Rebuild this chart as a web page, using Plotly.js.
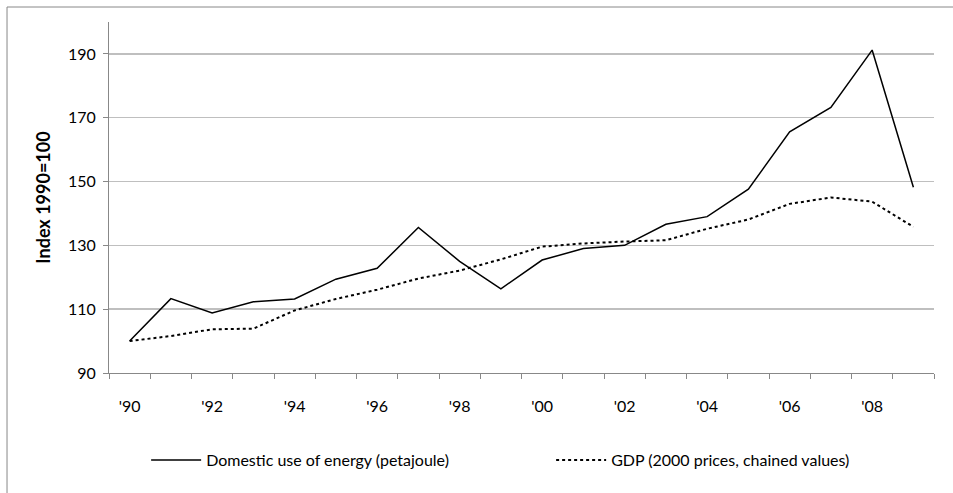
<!DOCTYPE html>
<html><head><meta charset="utf-8">
<script src="https://cdn.plot.ly/plotly-3.0.1.min.js"></script>
<style>html,body{margin:0;padding:0;background:#fff}#chart{width:953px;height:493px}</style>
</head><body><div id="chart"></div>
<script>
const years = [1990,1991,1992,1993,1994,1995,1996,1997,1998,1999,2000,2001,2002,2003,2004,2005,2006,2007,2008,2009];
const energy = [100,113.3,108.8,112.3,113.2,119.4,122.8,135.6,125,116.4,125.4,129,130,136.6,139,147.6,165.6,173.2,191.2,148.2];
const gdp = [100,101.6,103.7,103.9,109.6,113.2,116.1,119.6,122.1,125.6,129.6,130.6,131.2,131.6,135.2,138.1,143,145,143.7,135.8];
const tickYears = [1990,1992,1994,1996,1998,2000,2002,2004,2006,2008];
const tickLabels = ["'90","'92","'94","'96","'98","'00","'02","'04","'06","'08"];
const boundaries = [1989.5,1990.5,1991.5,1992.5,1993.5,1994.5,1995.5,1996.5,1997.5,1998.5,1999.5,2000.5,2001.5,2002.5,2003.5,2004.5,2005.5,2006.5,2007.5,2008.5,2009.5];
const yTicks = [90,110,130,150,170,190];

const font = 'Lato, "Open Sans", sans-serif';
const data = [
  {x: years, y: energy, type:'scatter', mode:'lines', name:'Domestic use of energy (petajoule)',
   line:{color:'#000', width:1.5}},
  {x: years, y: gdp, type:'scatter', mode:'lines', name:'GDP (2000 prices, chained values)',
   line:{color:'#000', width:2, dash:'dot'}},
  {x: [boundaries[0], boundaries[boundaries.length-1]], y:[null,null], xaxis:'x2', type:'scatter', mode:'lines', showlegend:false, hoverinfo:'skip'}
];
const layout = {
  width:953, height:493,
  margin:{l:109, r:19, t:22, b:120, autoexpand:false},
  paper_bgcolor:'#fff', plot_bgcolor:'#fff',
  font:{family:font, size:16, color:'#000'},
  showlegend:true,
  legend:{orientation:'h', x:0.045, y:-0.2, xanchor:'left', yanchor:'top',
          font:{family:font, size:16}, itemwidth:50, entrywidth:340, entrywidthmode:'pixels',
          bgcolor:'rgba(0,0,0,0)'},
  xaxis:{range:[1989.5,2009.5], tickmode:'array', tickvals:tickYears, ticktext:tickLabels, automargin:false,
         ticks:'', showgrid:false, zeroline:false, showline:true, linecolor:'#888', linewidth:1,
         ticklabelstandoff:19, tickfont:{size:16}},
  xaxis2:{range:[1989.5,2009.5], overlaying:'x', side:'bottom', tickmode:'array', tickvals:boundaries, automargin:false,
          showticklabels:false, ticks:'outside', ticklen:5, tickcolor:'#888', showgrid:false, zeroline:false, showline:false},
  yaxis:{range:[90,200], tickmode:'array', tickvals:yTicks, ticks:'outside', ticklen:5, tickcolor:'#888', automargin:false,
         showgrid:true, gridcolor:'#bfbfbf', gridwidth:1.5, zeroline:false, showline:true, linecolor:'#888', linewidth:1,
         ticklabelstandoff:4, tickfont:{size:16},
         title:{text:'<b>Index 1990=100</b>', font:{size:18}, standoff:12}},
  shapes:[{type:'rect', xref:'paper', yref:'paper', x0:-0.1236, x1:1.1, y0:-0.5, y1:1.0427,
           line:{color:'#888', width:1}, fillcolor:'rgba(0,0,0,0)', layer:'below'}]
};
Plotly.newPlot('chart', data, layout, {displayModeBar:false, staticPlot:true});
</script></body></html>
